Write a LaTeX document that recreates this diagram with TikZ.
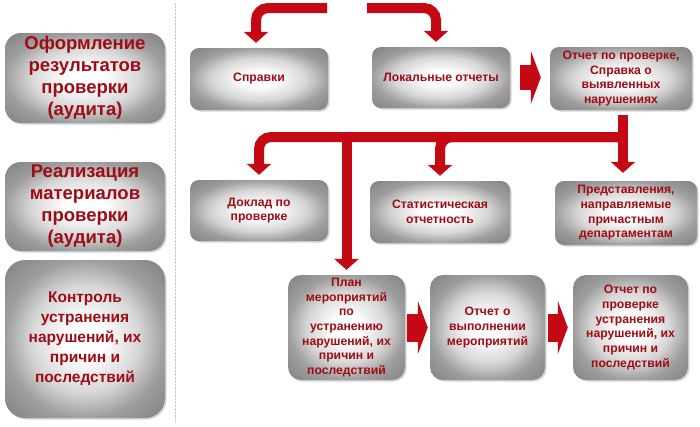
\documentclass[tikz,border=0pt]{standalone}
\usepackage{fontspec}
\setmainfont{Liberation Sans}
\usetikzlibrary{arrows.meta,shadows}
\definecolor{redtxt}{RGB}{158,12,22}
\definecolor{redarr}{RGB}{196,8,20}
\pgfdeclareradialshading{boxshade}{\pgfpoint{0bp}{0bp}}{color(0bp)=(white); color(6bp)=(white); color(17bp)=(black!16); color(25bp)=(black!38); color(36bp)=(black!50); color(50bp)=(black!55)}
\begin{document}
\begin{tikzpicture}[x=1pt,y=-1pt,
  box/.style={rounded corners=9pt,shade,shading=boxshade,
    drop shadow={shadow xshift=1.5pt,shadow yshift=-1.5pt,opacity=.35},
    align=center,text=redtxt,inner sep=1.5pt,
    font=\bfseries\fontsize{12.2}{14.7}\selectfont},
  bigbox/.style={box,rounded corners=16pt,minimum width=160pt,
    font=\bfseries\fontsize{18.5}{22}\selectfont},
  fat/.style={draw=redarr,line width=10pt,rounded corners=12pt,
    -{Triangle[width=24pt,length=11pt]},shorten >=5pt},
  chev/.style={draw=redarr,line width=28pt,-{Triangle[width=53pt,length=10pt]}}]
\useasboundingbox (0,0) rectangle (700,426);
\draw[gray!45,densely dotted] (175,3) -- (175,422);
\node[bigbox,minimum height=90pt] (oform) at (85,78) {Оформление\\результатов\\проверки\\(аудита)};
\node[bigbox,minimum height=89pt] (real) at (85,206.5) {Реализация\\материалов\\проверки\\(аудита)};
\node[bigbox,minimum height=158pt,rounded corners=20pt,font=\bfseries\fontsize{15.5}{20}\selectfont] (kontrol) at (85,339) {Контроль\\устранения\\нарушений, их\\причин и\\последствий};
\node[box,minimum width=138pt,minimum height=62pt] (spravki) at (259,79) {Справки};
\node[box,minimum width=138pt,minimum height=61pt] (lokal) at (441,77.5) {Локальные отчеты};
\node[box,minimum width=142pt,minimum height=63pt] (otchet) at (621,78.5) {Отчет по проверке,\\Справка о\\выявленных\\нарушениях};
\node[box,minimum width=138pt,minimum height=61pt] (doklad) at (259,210.5) {Доклад по\\проверке};
\node[box,minimum width=140pt,minimum height=62pt] (stat) at (440,212) {Статистическая\\отчетность};
\node[box,minimum width=142pt,minimum height=64pt] (predst) at (626,213) {Представления,\\направляемые\\причастным\\департаментам};
\node[box,rounded corners=13pt,minimum width=117pt,minimum height=105pt] (plan) at (346.5,327.5) {План\\мероприятий\\по\\устранению\\нарушений, их\\причин и\\последствий};
\node[box,rounded corners=13pt,minimum width=115pt,minimum height=105pt] (vyp) at (487.5,327.5) {Отчет о\\выполнении\\мероприятий};
\node[box,rounded corners=13pt,minimum width=115pt,minimum height=105pt] (itog) at (630.5,327.5) {Отчет по\\проверке\\устранения\\нарушений, их\\причин и\\последствий};
\coordinate (topL) at (327,8);
\coordinate (topR) at (367,8);
\coordinate (split) at (623,137);
\draw[fat] (topL) -| ([xshift=-3pt]spravki.north);
\draw[fat] (topR) -| ([xshift=-5pt]lokal.north);
\draw[fat] (split) -| (doklad.north);
\draw[fat] (split) -| (stat.north);
\draw[fat] (plan.north |- split) -- (plan.north);
\draw[fat,shorten <=5pt,shorten >=8pt] (otchet.south -| split) -- (predst.north -| split);
\draw[chev,line width=25pt,shorten <=10pt,shorten >=9pt] (lokal.east) -- (lokal.east -| otchet.west);
\draw[chev,shorten <=2pt,shorten >=2pt] (plan) -- (vyp);
\draw[chev,shorten <=3pt,shorten >=5pt] (vyp) -- (itog);
\end{tikzpicture}
\end{document}
